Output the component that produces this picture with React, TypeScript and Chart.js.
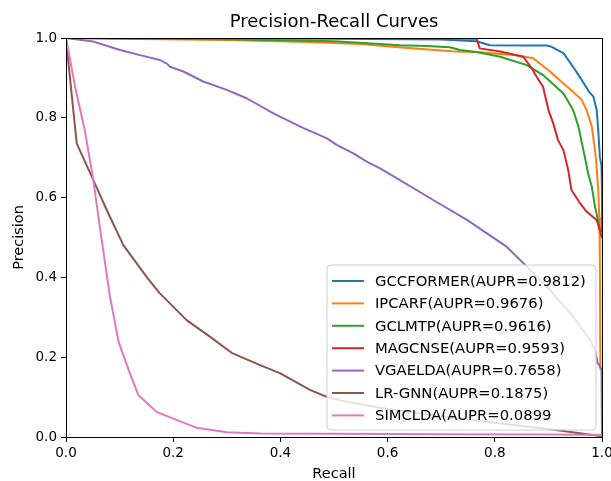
import React, { useEffect, useRef } from "react";
import { Chart, registerables } from "chart.js";

Chart.register(...registerables);

const FONT = "'DejaVu Sans', 'Liberation Sans', sans-serif";

const titleText = "Precision-Recall Curves";
const xLabel = "Recall";
const yLabel = "Precision";
const tickValues = [0, 0.2, 0.4, 0.6, 0.8, 1.0];

const seriesLabels = [
  "GCCFORMER(AUPR=0.9812)",
  "IPCARF(AUPR=0.9676)",
  "GCLMTP(AUPR=0.9616)",
  "MAGCNSE(AUPR=0.9593)",
  "VGAELDA(AUPR=0.7658)",
  "LR-GNN(AUPR=0.1875)",
  "SIMCLDA(AUPR=0.0899",
];
const seriesColors = ["#1f77b4", "#ff7f0e", "#2ca02c", "#d62728", "#9467bd", "#8c564b", "#e377c2"];

const gccformerRecall = [0, 0.1, 0.3, 0.5, 0.7, 0.766, 0.791, 0.85, 0.897, 0.906, 0.928, 0.946, 0.962, 0.976, 0.984, 0.99, 0.993, 0.996, 0.999, 1.0, 1.0];
const gccformerPrecision = [1.0, 1.0, 0.999, 0.998, 0.996, 0.992, 0.982, 0.981, 0.981, 0.978, 0.962, 0.928, 0.895, 0.865, 0.853, 0.82, 0.769, 0.702, 0.68, 0.6, 0.5];

const ipcarfRecall = [0, 0.1, 0.3, 0.45, 0.55, 0.62, 0.72, 0.77, 0.84, 0.872, 0.884, 0.903, 0.928, 0.946, 0.962, 0.971, 0.981, 0.986, 0.989, 0.993, 0.995, 0.996, 0.997];
const ipcarfPrecision = [1.0, 0.998, 0.995, 0.99, 0.985, 0.977, 0.967, 0.964, 0.957, 0.949, 0.936, 0.916, 0.886, 0.865, 0.845, 0.82, 0.778, 0.728, 0.694, 0.62, 0.55, 0.45, 0.168];

const gclmtpRecall = [0, 0.1, 0.3, 0.5, 0.586, 0.623, 0.673, 0.716, 0.735, 0.766, 0.81, 0.86, 0.89, 0.928, 0.946, 0.956, 0.962, 0.968, 0.974, 0.981, 0.987, 0.993, 0.996, 1.0];
const gclmtpPrecision = [1.0, 0.999, 0.997, 0.992, 0.985, 0.982, 0.98, 0.977, 0.97, 0.965, 0.953, 0.932, 0.907, 0.861, 0.82, 0.778, 0.74, 0.702, 0.661, 0.627, 0.577, 0.54, 0.519, 0.5];

const magcnseRecall = [0, 0.3, 0.6, 0.766, 0.772, 0.81, 0.853, 0.869, 0.878, 0.89, 0.9, 0.909, 0.918, 0.928, 0.937, 0.943, 0.959, 0.971, 0.99, 0.996, 1.0];
const magcnsePrecision = [1.0, 1.0, 1.0, 0.998, 0.974, 0.966, 0.953, 0.924, 0.903, 0.878, 0.82, 0.786, 0.744, 0.719, 0.669, 0.619, 0.586, 0.565, 0.544, 0.519, 0.5];

const vgaeldaRecall = [0, 0.051, 0.101, 0.138, 0.175, 0.188, 0.194, 0.219, 0.256, 0.3, 0.337, 0.387, 0.443, 0.486, 0.505, 0.536, 0.561, 0.586, 0.623, 0.685, 0.748, 0.822, 0.86, 0.903, 0.946, 0.978, 0.987, 0.992, 0.999, 1.0];
const vgaeldaPrecision = [1.0, 0.991, 0.97, 0.957, 0.945, 0.936, 0.928, 0.916, 0.891, 0.87, 0.849, 0.811, 0.774, 0.749, 0.732, 0.711, 0.69, 0.673, 0.644, 0.594, 0.544, 0.477, 0.427, 0.368, 0.302, 0.243, 0.218, 0.185, 0.172, 0.0];

const lrgnnRecall = [0, 0.004, 0.02, 0.051, 0.076, 0.107, 0.15, 0.175, 0.225, 0.269, 0.309, 0.362, 0.399, 0.455, 0.486, 0.524, 0.6, 0.7, 0.8, 0.9, 1.0];
const lrgnnPrecision = [1.0, 0.945, 0.736, 0.644, 0.569, 0.481, 0.402, 0.36, 0.293, 0.251, 0.211, 0.18, 0.16, 0.118, 0.101, 0.088, 0.07, 0.052, 0.036, 0.02, 0.002];

const simcldaRecall = [0, 0.017, 0.035, 0.051, 0.063, 0.082, 0.098, 0.119, 0.135, 0.169, 0.206, 0.244, 0.3, 0.362, 0.5, 0.7, 0.9, 1.0];
const simcldaPrecision = [1.0, 0.878, 0.769, 0.644, 0.527, 0.352, 0.239, 0.16, 0.105, 0.063, 0.043, 0.023, 0.012, 0.009, 0.008, 0.007, 0.006, 0.005];

export default function App() {
  const ref = useRef<HTMLCanvasElement | null>(null);

  useEffect(() => {
    const canvas = ref.current;
    if (!canvas) return;
    const pairs: [number[], number[]][] = [
      [gccformerRecall, gccformerPrecision],
      [ipcarfRecall, ipcarfPrecision],
      [gclmtpRecall, gclmtpPrecision],
      [magcnseRecall, magcnsePrecision],
      [vgaeldaRecall, vgaeldaPrecision],
      [lrgnnRecall, lrgnnPrecision],
      [simcldaRecall, simcldaPrecision],
    ];
    const datasets = pairs.map(([r, p], i) => ({
      label: seriesLabels[i],
      data: r.map((x, k) => ({ x, y: p[k] })),
      borderColor: seriesColors[i],
      backgroundColor: seriesColors[i],
      borderWidth: 2,
      pointRadius: 0,
      pointHoverRadius: 0,
      showLine: true,
      tension: 0,
      fill: false,
      borderJoinStyle: "round" as const,
      order: pairs.length - 1 - i,
    }));

    const decor = {
      id: "decor",
      afterDatasetsDraw(chart: any) {
        const { ctx, chartArea: a } = chart;
        ctx.save();
        ctx.strokeStyle = "#000";
        ctx.lineWidth = 1;
        ctx.strokeRect(Math.round(a.left) + 0.5, Math.round(a.top) + 0.5, Math.round(a.right - a.left), Math.round(a.bottom - a.top));
        ctx.restore();
      },
      afterDraw(chart: any) {
        const { ctx, chartArea: a } = chart;
        ctx.save();
        // title
        ctx.fillStyle = "#000";
        ctx.font = `18px ${FONT}`;
        ctx.textAlign = "center";
        ctx.textBaseline = "alphabetic";
        ctx.fillText(titleText, (a.left + a.right) / 2, 27);
        // x label
        ctx.font = `14.5px ${FONT}`;
        ctx.fillText(xLabel, (a.left + a.right) / 2, 478);
        // y label
        ctx.save();
        ctx.translate(23, (a.top + a.bottom) / 2);
        ctx.rotate(-Math.PI / 2);
        ctx.fillText(yLabel, 0, 0);
        ctx.restore();

        // legend
        const lx = 327, ly = 265, lw = 269, lh = 165, rad = 4;
        ctx.beginPath();
        ctx.moveTo(lx + rad, ly);
        ctx.lineTo(lx + lw - rad, ly);
        ctx.arcTo(lx + lw, ly, lx + lw, ly + rad, rad);
        ctx.lineTo(lx + lw, ly + lh - rad);
        ctx.arcTo(lx + lw, ly + lh, lx + lw - rad, ly + lh, rad);
        ctx.lineTo(lx + rad, ly + lh);
        ctx.arcTo(lx, ly + lh, lx, ly + lh - rad, rad);
        ctx.lineTo(lx, ly + rad);
        ctx.arcTo(lx, ly, lx + rad, ly, rad);
        ctx.closePath();
        ctx.fillStyle = "rgba(255,255,255,0.8)";
        ctx.fill();
        ctx.strokeStyle = "#cccccc";
        ctx.lineWidth = 1;
        ctx.stroke();

        ctx.font = `14.8px ${FONT}`;
        ctx.textAlign = "left";
        ctx.textBaseline = "middle";
        seriesLabels.forEach((label, i) => {
          const y = 281 + i * 22.4;
          ctx.strokeStyle = seriesColors[i];
          ctx.lineWidth = 2;
          ctx.beginPath();
          ctx.moveTo(332, y);
          ctx.lineTo(364, y);
          ctx.stroke();
          ctx.fillStyle = "#000";
          ctx.fillText(label, 375, y + 1);
        });
        ctx.restore();
      },
    };

    const axisCommon = {
      type: "linear" as const,
      min: 0,
      max: 1,
      afterBuildTicks: (s: any) => {
        s.ticks = tickValues.map((v) => ({ value: v }));
      },
      ticks: {
        callback: (v: any) => Number(v).toFixed(1),
        font: { family: FONT, size: 13.5 },
        color: "#000",
        autoSkip: false,
        maxRotation: 0,
        minRotation: 0,
      },
      grid: {
        display: true,
        drawOnChartArea: false,
        drawTicks: true,
        tickLength: 5,
        color: "#000",
        lineWidth: 1,
      },
      border: { display: false },
    };

    const chart = new Chart(canvas, {
      type: "scatter",
      data: { datasets },
      options: {
        responsive: false,
        animation: false,
        events: [],
        layout: { padding: { top: 38, right: 38, bottom: 0, left: 0 } },
        plugins: {
          legend: { display: false },
          title: { display: false },
          tooltip: { enabled: false },
        },
        scales: {
          x: {
            ...axisCommon,
            ticks: { ...axisCommon.ticks, padding: 3 },
            afterFit: (s: any) => {
              s.height = 44;
            },
          },
          y: {
            ...axisCommon,
            ticks: { ...axisCommon.ticks, padding: 4 },
            afterFit: (s: any) => {
              s.width = 66;
            },
          },
        },
      },
      plugins: [decor],
    } as any);

    return () => {
      chart.destroy();
    };
  }, []);

  return (
    <div style={{ position: "fixed", left: 0, top: 0, width: 611, height: 481, overflow: "hidden", background: "#fff" }}>
      <canvas ref={ref} width={640} height={481} style={{ display: "block", width: 640, height: 481 }} />
    </div>
  );
}
